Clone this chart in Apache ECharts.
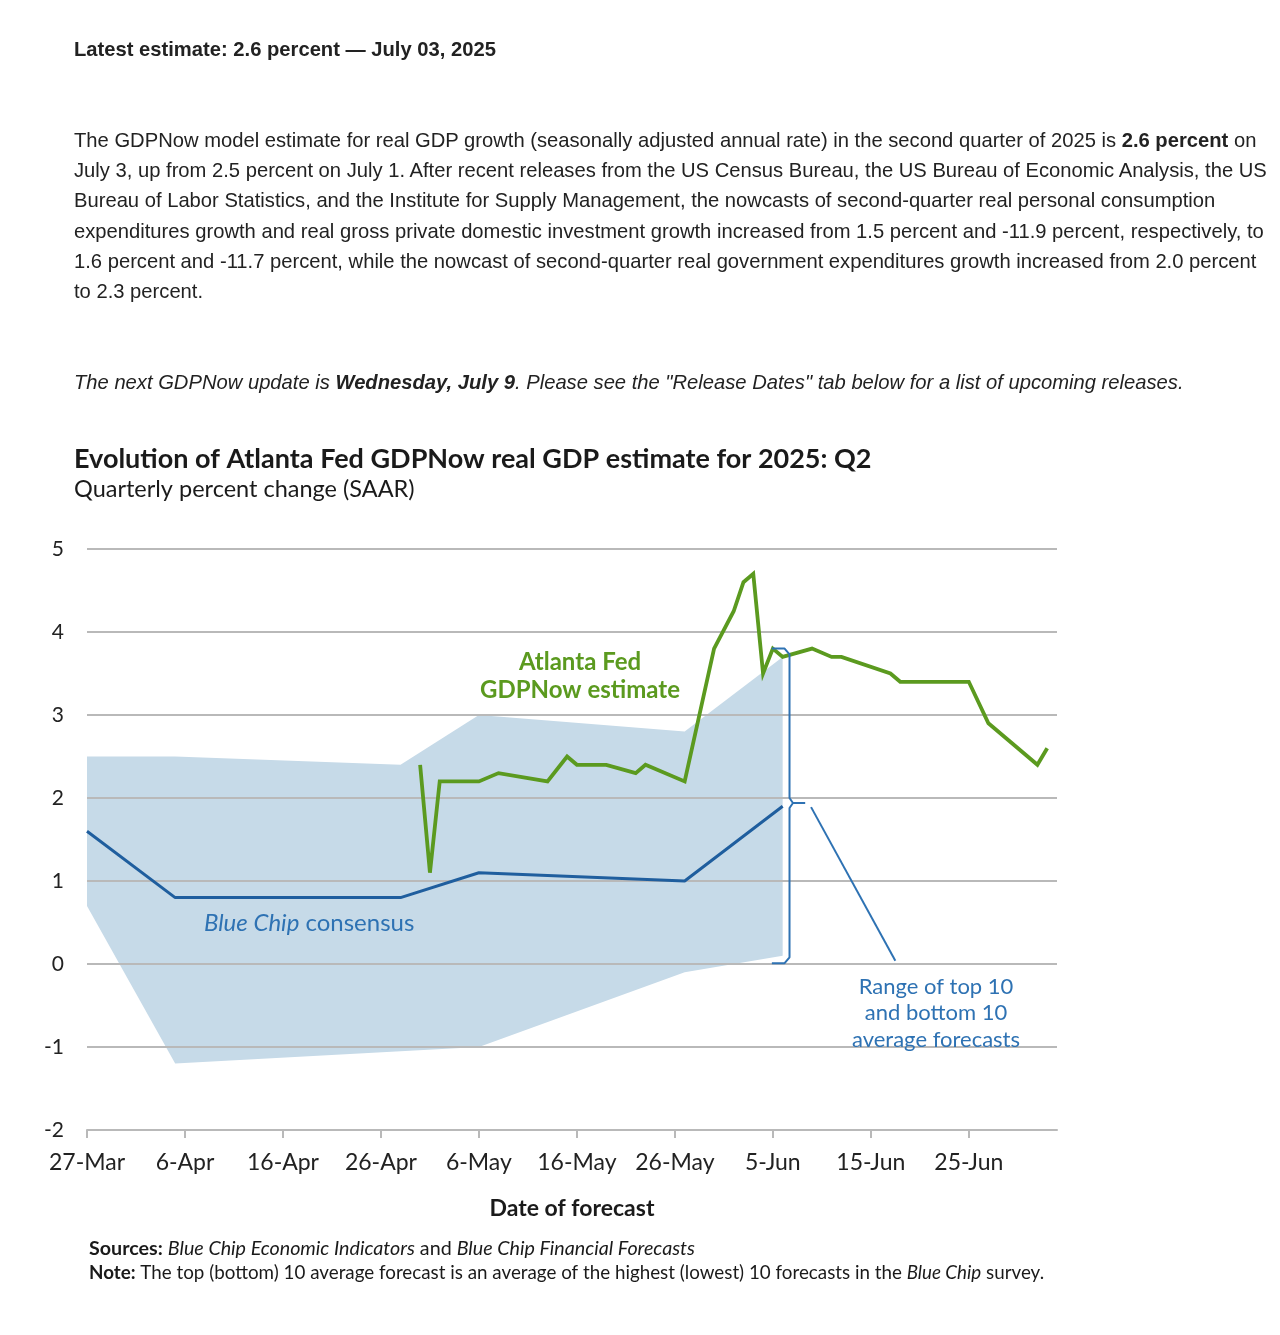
<!DOCTYPE html>
<html>
<head>
<meta charset="utf-8">
<script src="https://cdn.jsdelivr.net/npm/echarts@6/dist/echarts.min.js"></script>
<style>
  html, body { margin: 0; padding: 0; background: #fff; }
  body { width: 1280px; height: 1335px; position: relative; overflow: hidden; }
  #chart { position: absolute; left: 0; top: 0; width: 1280px; height: 1335px; z-index: 0; }
  .txt { position: absolute; left: 74px; z-index: 1; font-family: "Liberation Sans", Arial, sans-serif; color: #222; font-size: 20.2px; white-space: nowrap; }
  #latest { top: 34px; font-weight: bold; line-height: 30px; }
  #para { top: 125px; line-height: 30.2px; }
  #next { top: 367px; line-height: 30px; font-style: italic; }
</style>
</head>
<body>
<div id="chart"></div>
<div class="txt" id="latest">Latest estimate: 2.6 percent — July 03, 2025</div>
<div class="txt" id="para">The GDPNow model estimate for real GDP growth (seasonally adjusted annual rate) in the second quarter of 2025 is <b>2.6 percent</b> on<br>July 3, up from 2.5 percent on July 1. After recent releases from the US Census Bureau, the US Bureau of Economic Analysis, the US<br>Bureau of Labor Statistics, and the Institute for Supply Management, the nowcasts of second-quarter real personal consumption<br>expenditures growth and real gross private domestic investment growth increased from 1.5 percent and -11.9 percent, respectively, to<br>1.6 percent and -11.7 percent, while the nowcast of second-quarter real government expenditures growth increased from 2.0 percent<br>to 2.3 percent.</div>
<div class="txt" id="next">The next GDPNow update is <b>Wednesday, July 9</b>. Please see the "Release Dates" tab below for a list of upcoming releases.</div>
<script>
// ---------- data ----------
const baseDate = '2025-03-27';
const axisEndDate = '2025-07-04';
const tickLabels = ['27-Mar', '6-Apr', '16-Apr', '26-Apr', '6-May', '16-May', '26-May', '5-Jun', '15-Jun', '25-Jun'];

const gdpNowDates = ['2025-04-30', '2025-05-01', '2025-05-02', '2025-05-06', '2025-05-08', '2025-05-13', '2025-05-15',
  '2025-05-16', '2025-05-19', '2025-05-22', '2025-05-23', '2025-05-27', '2025-05-30', '2025-06-01', '2025-06-02',
  '2025-06-03', '2025-06-04', '2025-06-05', '2025-06-06', '2025-06-09', '2025-06-11', '2025-06-12', '2025-06-17',
  '2025-06-18', '2025-06-25', '2025-06-27', '2025-07-02', '2025-07-03'];
const gdpNowValues = [2.4, 1.1, 2.2, 2.2, 2.3, 2.2, 2.5,
  2.4, 2.4, 2.3, 2.4, 2.2, 3.8, 4.25, 4.6,
  4.7, 3.5, 3.8, 3.7, 3.8, 3.7, 3.7, 3.5,
  3.4, 3.4, 2.9, 2.4, 2.6];

const blueChipDates = ['2025-03-27', '2025-04-05', '2025-04-28', '2025-05-06', '2025-05-27', '2025-06-06'];
const consensusValues = [1.6, 0.8, 0.8, 1.1, 1.0, 1.9];
const top10Values = [2.5, 2.5, 2.4, 3.0, 2.8, 3.7];
const bottom10Values = [0.7, -1.2, -1.05, -1.0, -0.1, 0.1];

// ---------- helpers ----------
const DAY = 86400000;
function dayOf(s) {
  const p = s.split('-').map(Number), b = baseDate.split('-').map(Number);
  return Math.round((Date.UTC(p[0], p[1] - 1, p[2]) - Date.UTC(b[0], b[1] - 1, b[2])) / DAY);
}
const gdpNowData = gdpNowDates.map((d, i) => [dayOf(d), gdpNowValues[i]]);
const consensusData = blueChipDates.map((d, i) => [dayOf(d), consensusValues[i]]);
const bandData = blueChipDates.map((d, i) => [dayOf(d), top10Values[i], bottom10Values[i]]);

// bracket annotation derived from the last Blue Chip observation
const n = blueChipDates.length - 1;
const lastDay = dayOf(blueChipDates[n]);
const bx = lastDay + 0.7;
const bTop = top10Values[n] + 0.1, bBot = bottom10Values[n] - 0.09, bMid = consensusValues[n] + 0.04;
const bracketData = [
  [lastDay - 1.1, bTop], [bx - 0.5, bTop], [bx, bTop - 0.07],
  [bx, bMid + 0.06], [bx + 0.35, bMid], [bx + 1.6, bMid], [bx + 0.35, bMid], [bx, bMid - 0.06],
  [bx, bBot + 0.07], [bx - 0.5, bBot], [lastDay - 1.1, bBot]
];
const pointerData = [[bx + 2.2, bMid - 0.05], [bx + 10.8, 0.04]];

const GREEN = '#5b9a1f';
const NAVY = '#1f5e9e';
const ANN_BLUE = '#2e72b3';
const BAND = '#c6dae8';
const GRID = '#b9b9b9';
const FONT = 'Lato, "Noto Sans", sans-serif';

const chart = echarts.init(document.getElementById('chart'), null, { renderer: 'canvas' });

chart.setOption({
  animation: false,
  backgroundColor: '#fff',
  grid: { left: 87, right: 223, top: 549, bottom: 205, containLabel: false },
  xAxis: {
    type: 'value',
    min: 0,
    max: dayOf(axisEndDate),
    interval: 10,
    z: 1,
    name: 'Date of forecast',
    nameLocation: 'middle',
    nameGap: 67,
    nameTextStyle: { fontFamily: FONT, fontSize: 23, fontWeight: 'bold', color: '#1a1a1a' },
    axisLine: { show: true, onZero: false, lineStyle: { color: GRID, width: 2 } },
    axisTick: { show: true, length: 8, lineStyle: { color: GRID, width: 2 } },
    axisLabel: {
      fontFamily: FONT, fontSize: 23, color: '#222', margin: 21, showMaxLabel: false,
      formatter: v => tickLabels[Math.round(v / 10)] || ''
    },
    splitLine: { show: false }
  },
  yAxis: {
    type: 'value',
    min: -2,
    max: 5,
    interval: 1,
    z: 1,
    axisLine: { show: false },
    axisTick: { show: false },
    axisLabel: { fontFamily: FONT, fontSize: 21, color: '#222', margin: 23 },
    splitLine: { show: true, lineStyle: { color: GRID, width: 2 } }
  },
  graphic: [
    { type: 'text', x: 74, y: 459, z: 10, style: { text: 'Evolution of Atlanta Fed GDPNow real GDP estimate for 2025: Q2', font: 'bold 27px ' + FONT, fill: '#1a1a1a', textVerticalAlign: 'middle' } },
    { type: 'text', x: 74, y: 489, z: 10, style: { text: 'Quarterly percent change (SAAR)', font: '23.5px ' + FONT, fill: '#1a1a1a', textVerticalAlign: 'middle' } },
    { type: 'text', x: 580, y: 662, z: 10, style: { text: 'Atlanta Fed', font: 'bold 24px ' + FONT, fill: GREEN, textAlign: 'center', textVerticalAlign: 'middle' } },
    { type: 'text', x: 580, y: 690, z: 10, style: { text: 'GDPNow estimate', font: 'bold 24px ' + FONT, fill: GREEN, textAlign: 'center', textVerticalAlign: 'middle' } },
    { type: 'text', x: 204, y: 923, z: 10, style: { text: '{i|Blue Chip} consensus', font: '24px ' + FONT, fill: ANN_BLUE, textVerticalAlign: 'middle',
        rich: { i: { fontStyle: 'italic', fontFamily: FONT, fontSize: 24, fill: ANN_BLUE, color: ANN_BLUE } } } },
    { type: 'text', x: 936, y: 987, z: 10, style: { text: 'Range of top 10', font: '22px ' + FONT, fill: ANN_BLUE, textAlign: 'center', textVerticalAlign: 'middle' } },
    { type: 'text', x: 936, y: 1013, z: 10, style: { text: 'and bottom 10', font: '22px ' + FONT, fill: ANN_BLUE, textAlign: 'center', textVerticalAlign: 'middle' } },
    { type: 'text', x: 936, y: 1040, z: 10, style: { text: 'average forecasts', font: '22px ' + FONT, fill: ANN_BLUE, textAlign: 'center', textVerticalAlign: 'middle' } },
    { type: 'text', x: 89, y: 1249, z: 10, style: {
        text: '{b|Sources:} {i|Blue Chip Economic Indicators} and {i|Blue Chip Financial Forecasts}',
        font: '19.7px ' + FONT, fill: '#1a1a1a', textVerticalAlign: 'middle',
        rich: { b: { fontWeight: 'bold', fontFamily: FONT, fontSize: 19.7 }, i: { fontStyle: 'italic', fontFamily: FONT, fontSize: 19.7 } } } },
    { type: 'text', x: 89, y: 1273, z: 10, style: {
        text: '{b|Note:} The top (bottom) 10 average forecast is an average of the highest (lowest) 10 forecasts in the {i|Blue Chip} survey.',
        font: '18.8px ' + FONT, fill: '#1a1a1a', textVerticalAlign: 'middle',
        rich: { b: { fontWeight: 'bold', fontFamily: FONT, fontSize: 18.8 }, i: { fontStyle: 'italic', fontFamily: FONT, fontSize: 18.8 } } } }
  ],
  series: [
    { name: 'Range of top 10 and bottom 10', type: 'custom', data: bandData, z: 0, silent: true,
      encode: { x: 0, y: [1, 2] },
      renderItem: function (params, api) {
        if (params.dataIndex !== 0) return null;
        const upper = bandData.map(p => api.coord([p[0], p[1]]));
        const lower = bandData.map(p => api.coord([p[0], p[2]])).reverse();
        return { type: 'polygon', shape: { points: upper.concat(lower) }, style: { fill: BAND } };
      }
    },
    { name: 'Blue Chip consensus', type: 'line', data: consensusData, z: 3, symbol: 'none',
      lineStyle: { color: NAVY, width: 3 } },
    { name: 'GDPNow', type: 'line', data: gdpNowData, z: 4, symbol: 'none',
      lineStyle: { color: GREEN, width: 3.8, join: 'miter' } },
    { name: 'bracket', type: 'line', data: bracketData, z: 5, symbol: 'none', smooth: false,
      lineStyle: { color: ANN_BLUE, width: 2 } },
    { name: 'pointer', type: 'line', data: pointerData, z: 5, symbol: 'none',
      lineStyle: { color: ANN_BLUE, width: 2 } }
  ]
});
</script>
</body>
</html>
